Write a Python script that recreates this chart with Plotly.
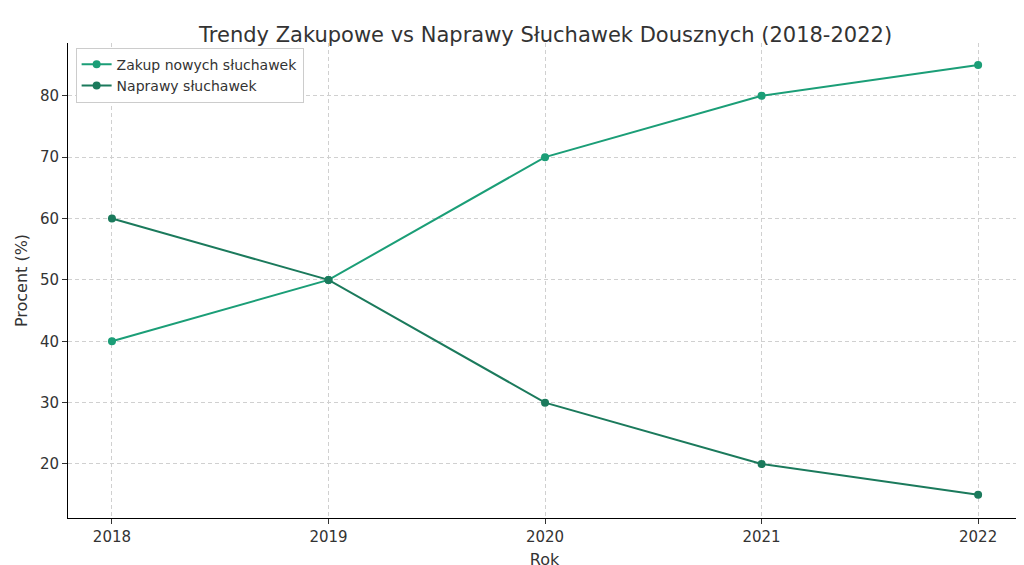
import plotly.graph_objects as go

years = [2018, 2019, 2020, 2021, 2022]
zakup = [40, 50, 70, 80, 85]
naprawy = [60, 50, 30, 20, 15]

fig = go.Figure()
fig.add_trace(go.Scatter(x=years, y=zakup, mode="lines+markers", name="Zakup nowych słuchawek",
                         line=dict(color="#1b9e77", width=2), marker=dict(size=8)))
fig.add_trace(go.Scatter(x=years, y=naprawy, mode="lines+markers", name="Naprawy słuchawek",
                         line=dict(color="#1b7a5c", width=2), marker=dict(size=8)))

grid = dict(showgrid=True, gridcolor="#d0d0d0", griddash="4px,3px", gridwidth=1,
            showline=True, linecolor="black", linewidth=1, ticks="outside",
            tickcolor="#333", ticklen=5, zeroline=False, tickfont=dict(size=15, color="#333"),
            automargin=False)
fig.update_layout(
    width=1024, height=565, plot_bgcolor="white", paper_bgcolor="white",
    font=dict(family="DejaVu Sans", color="#333"),
    title=dict(text="Trendy Zakupowe vs Naprawy Słuchawek Dousznych (2018-2022)",
               x=0.525, xanchor="center", y=0.965, font=dict(size=21, color="#333"), automargin=False),
    margin=dict(l=60, r=11, t=35, b=55),
    legend=dict(x=0.008, y=0.99, xanchor="left", yanchor="top", bordercolor="#ccc",
                borderwidth=1, font=dict(size=14, color="#333"), bgcolor="white"),
    xaxis=dict(title=dict(text="Rok", font=dict(size=16), standoff=8), range=[2017.797, 2022.198],
               tickvals=years, **grid),
    yaxis=dict(title=dict(text="Procent (%)", font=dict(size=16), standoff=8), range=[11.2, 88.6],
               dtick=10, **grid),
)
fig.write_html("out.html")
